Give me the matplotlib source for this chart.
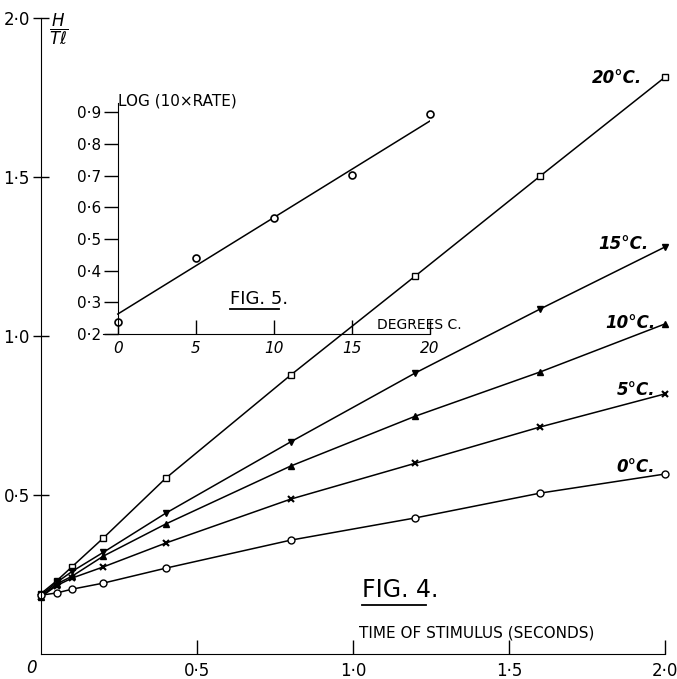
#!/usr/bin/env python3
"""Heat per unit tension vs time of stimulus (Fig. 4) with the
log-rate vs temperature inset (Fig. 5)."""

import matplotlib
matplotlib.use("Agg")
import matplotlib.pyplot as plt

# Fig. 4 data: H/Tl against stimulus time (s) at five temperatures
stim_time = [0, 0.05, 0.1, 0.2, 0.4, 0.8, 1.2, 1.6, 2.0]
h_20 = [0.19, 0.23, 0.275, 0.365, 0.553, 0.877, 1.189, 1.503, 1.814]
h_15 = [0.185, 0.225, 0.26, 0.32, 0.443, 0.667, 0.884, 1.085, 1.28]
h_10 = [0.18, 0.22, 0.245, 0.308, 0.409, 0.591, 0.748, 0.887, 1.038]
h_5 = [0.18, 0.215, 0.239, 0.274, 0.349, 0.487, 0.60, 0.714, 0.818]
h_0 = [0.185, 0.192, 0.204, 0.223, 0.27, 0.358, 0.428, 0.506, 0.566]
series_labels = ["20°C.", "15°C.", "10°C.", "5°C.", "0°C."]

main_xticks = [0.5, 1.0, 1.5, 2.0]
main_xticklabels = ["0·5", "1·0", "1·5", "2·0"]
main_yticks = [0.5, 1.0, 1.5, 2.0]
main_yticklabels = ["0·5", "1·0", "1·5", "2·0"]

# Fig. 5 data: log(10 x rate) against temperature
degrees = [0, 5, 10, 15, 20]
log_rate = [0.238, 0.44, 0.566, 0.702, 0.894]
fit_degrees = [0, 20]
fit_log_rate = [0.263, 0.872]
inset_yticks = [0.2, 0.3, 0.4, 0.5, 0.6, 0.7, 0.8, 0.9]
inset_yticklabels = ["0·2", "0·3", "0·4", "0·5", "0·6", "0·7", "0·8", "0·9"]

fig = plt.figure(figsize=(6.77, 6.79), dpi=100)
ax = fig.add_axes([0.0606, 0.0368, 0.9217, 0.9367])

styles = [
    dict(marker="s", mfc="white", ms=5),
    dict(marker="v", mfc="black", ms=5),
    dict(marker="^", mfc="black", ms=5),
    dict(marker="x", mfc="black", ms=4, mew=1.5),
    dict(marker="o", mfc="white", ms=5),
]
for h, st in zip([h_20, h_15, h_10, h_5, h_0], styles):
    ax.plot(stim_time, h, color="black", lw=1.1, mec="black", clip_on=False, **st)

ax.set_xlim(0, 2.0)
ax.set_ylim(0, 2.0)
for side in ("top", "right"):
    ax.spines[side].set_visible(False)
ax.set_xticks(main_xticks)
ax.set_xticklabels(main_xticklabels, fontsize=12)
ax.set_yticks(main_yticks)
ax.set_yticklabels(main_yticklabels, fontsize=12)
ax.tick_params(axis="x", direction="in", length=10, width=1, pad=6)
ax.tick_params(axis="y", direction="inout", length=12, width=1, pad=2)
ax.text(-0.015, -0.015, "0", fontsize=12, style="italic", ha="right", va="top")
ax.text(0.025, 1.965, r"$\dfrac{H}{T\ell}$", fontsize=12, ha="left", va="center")

# series labels near the line ends
label_pos = [(1.926, 1.81), (1.946, 1.29), (1.968, 1.04), (1.968, 0.83), (1.968, 0.588)]
for txt, (lx, ly) in zip(series_labels, label_pos):
    ax.text(lx, ly, txt, fontsize=12, ha="right", va="center", style="italic",
            fontweight="bold")

ax.text(1.03, 0.20, "FIG. 4.", fontsize=17, ha="left", va="center")
ax.plot([1.03, 1.235], [0.155, 0.155], color="black", lw=1.3, clip_on=False)
ax.text(1.02, 0.066, "TIME OF STIMULUS (SECONDS)", fontsize=11, ha="left", va="center")

# inset: Fig. 5
ins = fig.add_axes([0.1521, 0.5081, 0.483, 0.3408])
ins.patch.set_alpha(0)
ins.plot(fit_degrees, fit_log_rate, color="black", lw=1.1)
ins.plot(degrees, log_rate, ls="none", marker="o", ms=5, mfc="white", mec="black",
         mew=1.2, clip_on=False)
ins.set_xlim(-0.95, 20)
ins.set_ylim(0.2, 0.93)
for side in ("top", "right"):
    ins.spines[side].set_visible(False)
ins.spines["left"].set_position(("data", 0))
ins.set_xticks(degrees)
ins.set_xticklabels([str(d) for d in degrees], fontsize=11, style="italic")
ins.set_yticks(inset_yticks)
ins.set_yticklabels(inset_yticklabels, fontsize=11)
ins.tick_params(axis="x", direction="in", length=10, width=1, pad=5)
ins.tick_params(axis="y", direction="out", length=10, width=1, pad=2)
ins.text(0, 0.935, "LOG (10×RATE)", fontsize=11, ha="left", va="center")
ins.text(16.6, 0.228, "DEGREES C.", fontsize=10, ha="left", va="center")
ins.text(7.2, 0.31, "FIG. 5.", fontsize=13, ha="left", va="center")
ins.plot([7.2, 10.3], [0.28, 0.28], color="black", lw=1.3)

fig.savefig("out.png", dpi=100)
